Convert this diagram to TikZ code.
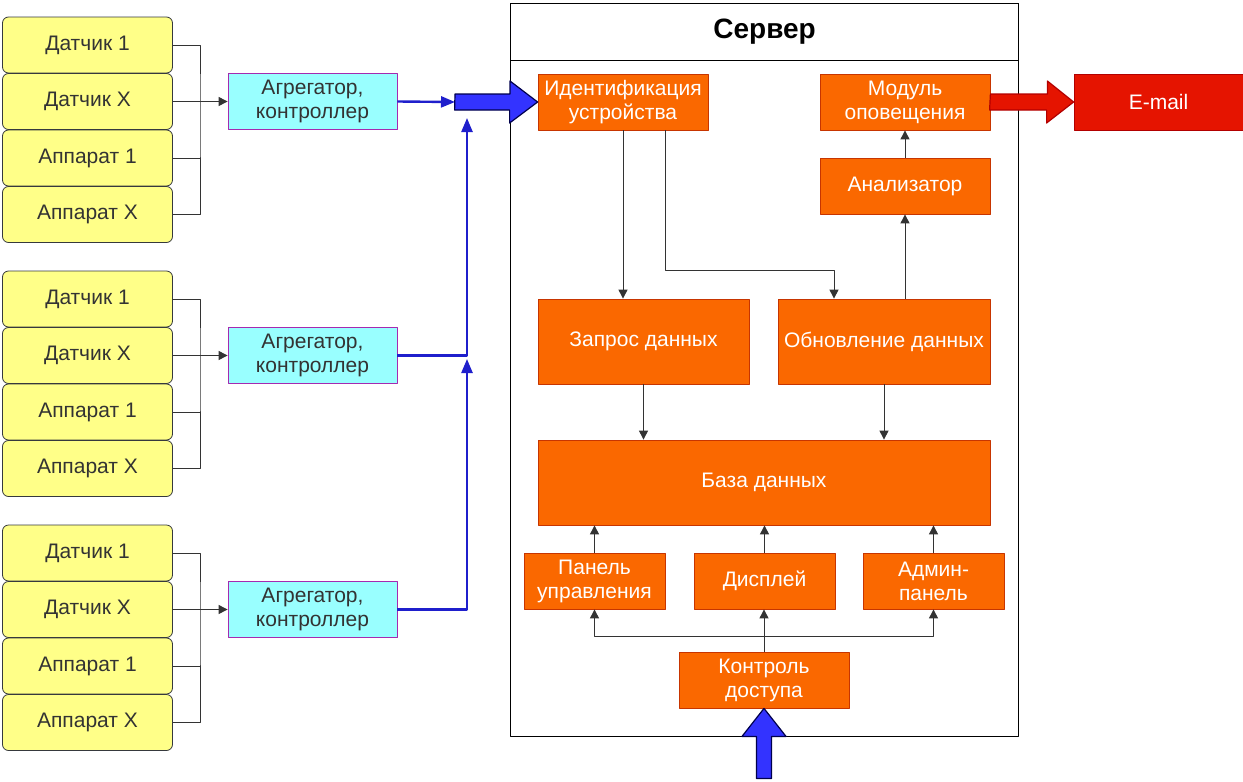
\documentclass[tikz,border=0pt]{standalone}
\usepackage{fontspec}
\setmainfont{Liberation Sans}
\usetikzlibrary{arrows.meta}
\definecolor{devfill}{HTML}{FFFF88}
\definecolor{devline}{HTML}{36393D}
\definecolor{aggfill}{HTML}{99FFFF}
\definecolor{aggline}{HTML}{A52AB0}
\definecolor{blkfill}{HTML}{FA6800}
\definecolor{blkline}{HTML}{C73500}
\definecolor{mailfill}{HTML}{E51400}
\definecolor{mailline}{HTML}{B20000}
\definecolor{bluefill}{HTML}{3333FF}
\definecolor{blueline}{HTML}{1F1FCC}
\tikzset{
  dev/.style={draw=devline, fill=devfill, rounded corners=3pt, minimum width=85pt, minimum height=28pt, inner sep=0pt, text=black!80},
  agg/.style={draw=aggline, fill=aggfill, minimum width=84.5pt, minimum height=28pt, inner sep=0pt, align=center, text=black!80},
  blk/.style={draw=blkline, fill=blkfill, text=white, align=center, inner sep=0pt, minimum width=85pt, minimum height=28pt},
  wire/.style={draw=black!80, line width=0.5pt},
  bluewire/.style={draw=blueline, line width=1.2pt, -{Triangle[length=7pt,width=5.5pt]}},
}
\begin{document}
\begin{tikzpicture}[x=0.5pt, y=-0.5pt, font=\fontsize{10.5}{12}\selectfont, >={Triangle[length=4.5pt,width=4.5pt]}, line join=round]
  \useasboundingbox (0,0) rectangle (1243,782);
  \foreach \g/\y in {1/0,2/254,3/508}{
    \node[dev] (s\g-1) at (87.5,45+\y) {Датчик 1};
    \node[dev] (s\g-2) at (87.5,101.5+\y) {Датчик X};
    \node[dev] (s\g-3) at (87.5,158+\y) {Аппарат 1};
    \node[dev] (s\g-4) at (87.5,214.5+\y) {Аппарат X};
    \node[agg] (agg\g) at (312.5,101.5+\y) {Агрегатор,\\контроллер};
    \coordinate (j\g) at (200,101.5+\y);
    \draw[wire] (s\g-1.east) -| (j\g) |- (s\g-4.east);
    \draw[wire] (s\g-3.east) -- (s\g-3.east -| j\g);
    \draw[wire,->] (s\g-2.east) -- (agg\g.west);
  }
  \node[draw, line width=0.6pt, minimum width=254pt, minimum height=366.5pt, anchor=north west] (server) at (510,3) {};
  \node[draw, line width=0.6pt, minimum width=254pt, minimum height=28.5pt, anchor=north west, font=\fontsize{14}{16}\selectfont\bfseries] (srvhead) at (510,3) {Сервер};
  \node[blk] (ident) at (623,102) {Идентификация\\устройства};
  \node[blk] (notify) at (905,102) {Модуль\\оповещения};
  \node[blk] (anlz) at (905,186) {Анализатор};
  \node[blk, minimum width=105.5pt, minimum height=42.5pt] (query) at (643.5,341.5) {Запрос данных};
  \node[blk, minimum width=106pt, minimum height=42.5pt] (update) at (884,341.5) {Обновление данных};
  \node[blk, minimum width=226pt, minimum height=42.5pt] (db) at (764,482.5) {База данных};
  \node[blk, minimum width=70.5pt] (panel) at (594.5,581) {Панель\\управления};
  \node[blk, minimum width=70.5pt] (disp) at (764.5,581) {Дисплей};
  \node[blk, minimum width=70.5pt] (admin) at (933.5,581) {Админ-\\панель};
  \node[blk] (access) at (764,680) {Контроль\\доступа};
  \node[blk, fill=mailfill, draw=mailline, minimum width=84.5pt] (email) at (1158.5,102) {E-mail};
  \coordinate (bigin) at (455,102);
  \coordinate (tipup) at (467,118);
  \coordinate (tipmid) at (467,359);
  \draw[bluewire] (agg1.east) -- (bigin);
  \draw[bluewire] (agg2.east) -| (tipup);
  \draw[bluewire] (agg3.east) -| (tipmid);
  \filldraw[fill=bluefill, draw=blue!30!black, line width=0.6pt] ([yshift=4pt]bigin) -- ++(55,0) -- ++(0,-13) -- (ident.west) -- ++(-28,21) -- ++(0,-13) -- ++(-55,0) -- cycle;
  \filldraw[fill=mailfill, draw=mailline, line width=0.6pt] ([yshift=4pt]notify.east) -- ++(57,0) -- ++(0,-13) -- (email.west) -- ++(-27,21) -- ++(0,-13) -- ++(-57,0) -- cycle;
  \filldraw[fill=bluefill, draw=blue!30!black, line width=0.6pt] (access.south) -- ++(22,28) -- ++(-14.5,0) -- ++(0,42) -- ++(-15,0) -- ++(0,-42) -- ++(-14.5,0) -- cycle;
  \draw[wire,->] (ident.south) -- (ident.south |- query.north);
  \draw[wire,->] ([xshift=21pt]ident.south) -- ++(0,140) -| ([xshift=-25pt]update.north);
  \draw[wire,->] (update.north -| anlz.south) -- (anlz.south);
  \draw[wire,->] (anlz) -- (notify);
  \draw[wire,->] (query.south) -- (query.south |- db.north);
  \draw[wire,->] (update.south) -- (update.south |- db.north);
  \draw[wire,->] (panel) -- (panel |- db.south);
  \draw[wire,->] (disp) -- (disp |- db.south);
  \draw[wire,->] (admin) -- (admin |- db.south);
  \draw[wire] (access.north) -- ++(0,-15) coordinate (split);
  \draw[wire,->] (split) -- (split |- disp.south);
  \draw[wire,->] (split) -| (panel.south);
  \draw[wire,->] (split) -| (admin.south);
\end{tikzpicture}
\end{document}
